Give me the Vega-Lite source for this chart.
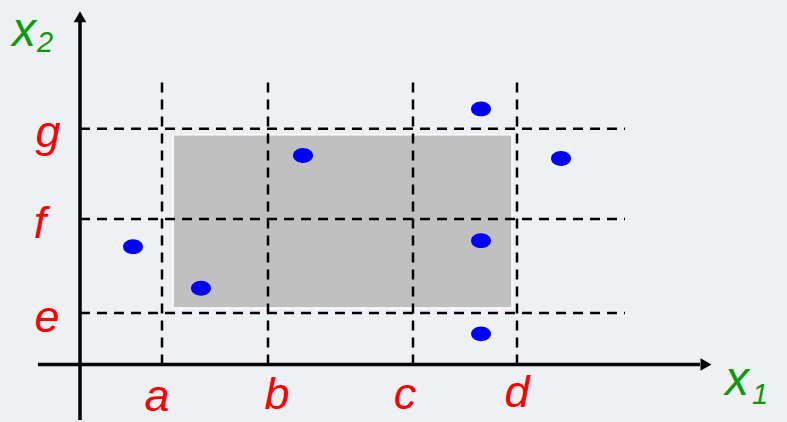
{
  "$schema": "https://vega.github.io/schema/vega-lite/v6.json",
  "width": 787,
  "height": 422,
  "autosize": {"type": "fit", "contains": "padding"},
  "padding": 0,
  "background": "#eef0f4",
  "config": {"view": {"stroke": null}},
  "datasets": {
    "box": [{"x1": 9.3, "x2": 43.2, "y1": 5.7, "y2": 23.2}],
    "vlines": [
      {"name": "a", "x": 8.2, "y1": 0, "y2": 28.9},
      {"name": "b", "x": 18.8, "y1": 0, "y2": 28.9},
      {"name": "c", "x": 33.3, "y1": 0, "y2": 28.9},
      {"name": "d", "x": 43.7, "y1": 0, "y2": 28.9}
    ],
    "hlines": [
      {"name": "g", "y": 23.8, "x1": 0, "x2": 54.5},
      {"name": "f", "y": 14.7, "x1": 0, "x2": 54.5},
      {"name": "e", "y": 5.2, "x1": 0, "x2": 54.5}
    ],
    "axes": [
      {"axis": "x1", "xa": -4.2, "xb": 62.0, "ya": 0, "yb": 0},
      {"axis": "x2", "xa": 0, "xb": 0, "ya": -5.6, "yb": 34.6}
    ],
    "arrows": [
      {"axis": "x1", "x": 62.6, "y": 0, "dir": "triangle-right"},
      {"axis": "x2", "x": 0, "y": 35.1, "dir": "triangle-up"}
    ],
    "points": [
      {"x": 5.3, "y": 11.9},
      {"x": 12.1, "y": 7.7},
      {"x": 22.3, "y": 21.1},
      {"x": 40.1, "y": 25.8},
      {"x": 48.1, "y": 20.8},
      {"x": 40.1, "y": 12.5},
      {"x": 40.1, "y": 3.1}
    ],
    "redlabels": [
      {"t": "g", "x": -3.2, "y": 23.4},
      {"t": "f", "x": -4.0, "y": 14.2},
      {"t": "e", "x": -3.3, "y": 4.7},
      {"t": "a", "x": 7.7, "y": -3.3},
      {"t": "b", "x": 19.7, "y": -3.1},
      {"t": "c", "x": 32.5, "y": -3.1},
      {"t": "d", "x": 43.7, "y": -2.9}
    ],
    "axisletters": [
      {"t": "x", "x": -5.6, "y": 33.6},
      {"t": "x", "x": 65.7, "y": -1.7}
    ],
    "subscripts": [
      {"t": "2", "x": -3.5, "y": 32.5},
      {"t": "1", "x": 68.0, "y": -3.1}
    ]
  },
  "layer": [
    {
      "data": {"name": "box"},
      "mark": {"type": "rect", "fill": "#c0c0c0", "stroke": "#ffffff", "strokeWidth": 1.5},
      "encoding": {
        "x": {"field": "x1", "type": "quantitative", "scale": {"domain": [-8, 70.7], "nice": false, "zero": false}, "axis": null},
        "x2": {"field": "x2"},
        "y": {"field": "y1", "type": "quantitative", "scale": {"domain": [-5.4, 36.8], "nice": false, "zero": false}, "axis": null},
        "y2": {"field": "y2"}
      }
    },
    {
      "data": {"name": "vlines"},
      "mark": {"type": "rule", "color": "#000000", "strokeWidth": 2.5, "strokeDash": [10, 7]},
      "encoding": {
        "x": {"field": "x", "type": "quantitative"},
        "y": {"field": "y1", "type": "quantitative"},
        "y2": {"field": "y2"}
      }
    },
    {
      "data": {"name": "hlines"},
      "mark": {"type": "rule", "color": "#000000", "strokeWidth": 2.5, "strokeDash": [10, 7]},
      "encoding": {
        "y": {"field": "y", "type": "quantitative"},
        "x": {"field": "x1", "type": "quantitative"},
        "x2": {"field": "x2"}
      }
    },
    {
      "data": {"name": "axes"},
      "mark": {"type": "rule", "color": "#000000", "strokeWidth": 3.5},
      "encoding": {
        "x": {"field": "xa", "type": "quantitative"},
        "x2": {"field": "xb"},
        "y": {"field": "ya", "type": "quantitative"},
        "y2": {"field": "yb"}
      }
    },
    {
      "data": {"name": "arrows"},
      "mark": {"type": "point", "filled": true, "color": "#000000", "opacity": 1, "size": 160},
      "encoding": {
        "x": {"field": "x", "type": "quantitative"},
        "y": {"field": "y", "type": "quantitative"},
        "shape": {"field": "dir", "type": "nominal", "scale": {"domain": ["triangle-right", "triangle-up"], "range": ["triangle-right", "triangle-up"]}, "legend": null}
      }
    },
    {
      "data": {"name": "points"},
      "mark": {"type": "point", "filled": true, "color": "#0000ff", "opacity": 1, "size": 400, "shape": "M-1,0A1,0.74 0 1,0 1,0A1,0.74 0 1,0 -1,0Z"},
      "encoding": {
        "x": {"field": "x", "type": "quantitative"},
        "y": {"field": "y", "type": "quantitative"}
      }
    },
    {
      "data": {"name": "redlabels"},
      "mark": {"type": "text", "color": "#ff0000", "font": "Liberation Sans", "fontStyle": "italic", "fontSize": 45, "align": "center", "baseline": "middle"},
      "encoding": {
        "x": {"field": "x", "type": "quantitative"},
        "y": {"field": "y", "type": "quantitative"},
        "text": {"field": "t"}
      }
    },
    {
      "data": {"name": "axisletters"},
      "mark": {"type": "text", "color": "#0a9a0a", "font": "Liberation Sans", "fontStyle": "italic", "fontSize": 48, "align": "center", "baseline": "middle"},
      "encoding": {
        "x": {"field": "x", "type": "quantitative"},
        "y": {"field": "y", "type": "quantitative"},
        "text": {"field": "t"}
      }
    },
    {
      "data": {"name": "subscripts"},
      "mark": {"type": "text", "color": "#0a9a0a", "font": "Liberation Sans", "fontStyle": "italic", "fontSize": 29, "align": "center", "baseline": "middle"},
      "encoding": {
        "x": {"field": "x", "type": "quantitative"},
        "y": {"field": "y", "type": "quantitative"},
        "text": {"field": "t"}
      }
    }
  ]
}
